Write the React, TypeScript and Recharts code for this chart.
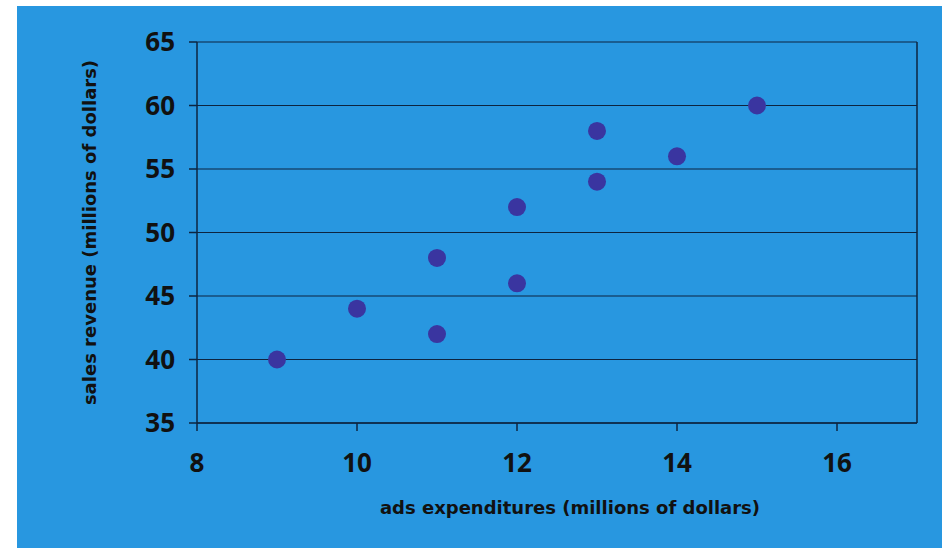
import React from 'react';
import { ScatterChart, Scatter, XAxis, YAxis, CartesianGrid, ReferenceLine } from 'recharts';

const adsSpend = [9, 10, 11, 11, 12, 12, 13, 13, 14, 15];
const salesRevenue = [40, 44, 42, 48, 46, 52, 54, 58, 56, 60];
const xTicks = [8, 10, 12, 14, 16];
const yTicks = [35, 40, 45, 50, 55, 60, 65];

const data = adsSpend.map((x, i) => ({ x, y: salesRevenue[i] }));

const FONT = '"Open Sans", sans-serif';
const LABEL_FONT = '"DejaVu Sans", sans-serif';
const LINE = '#0d2440';

export default function App() {
  return (
    <div style={{ position: 'absolute', left: 0, top: 0, width: 942, height: 548, background: '#fff', overflow: 'hidden' }}>
      <div style={{ position: 'absolute', left: 17, top: 6, width: 925, height: 542, background: '#2897e0' }}>
        <ScatterChart width={925} height={542} margin={{ top: 36, right: 25, bottom: 0, left: 0 }}>
          <CartesianGrid horizontal={true} vertical={false} stroke={LINE} strokeWidth={1.2} strokeOpacity={1} />
          <XAxis
            type="number"
            dataKey="x"
            domain={[8, 17]}
            ticks={xTicks}
            allowDataOverflow
            height={125}
            axisLine={{ stroke: LINE, strokeWidth: 1.5 }}
            tickLine={{ stroke: LINE, strokeWidth: 1.5 }}
            tickSize={8}
            tickMargin={23}
            tick={{ fill: '#111', fontSize: 26, fontWeight: 700, fontFamily: FONT }}
            label={{ value: 'ads expenditures (millions of dollars)', position: 'insideBottom', offset: 34, dx: 13, fill: '#111', fontSize: 18, fontWeight: 700, fontFamily: LABEL_FONT }}
          />
          <YAxis
            type="number"
            dataKey="y"
            domain={[35, 65]}
            ticks={yTicks}
            width={180}
            axisLine={{ stroke: LINE, strokeWidth: 1.5 }}
            tickLine={{ stroke: LINE, strokeWidth: 1.5 }}
            tickSize={8}
            tickMargin={14}
            tick={{ fill: '#111', fontSize: 26, fontWeight: 700, fontFamily: FONT }}
            label={{ value: 'sales revenue (millions of dollars)', angle: -90, position: 'insideLeft', offset: 73, fill: '#111', fontSize: 18, fontWeight: 700, fontFamily: LABEL_FONT, style: { textAnchor: 'middle' } }}
          />
          <ReferenceLine x={17} stroke={LINE} strokeWidth={1.5} ifOverflow="extendDomain" />
          <Scatter data={data} fill="#3a35a0" isAnimationActive={false} shape={(p: any) => <circle cx={p.cx} cy={p.cy} r={9} fill="#3a35a0" />} />
        </ScatterChart>
      </div>
    </div>
  );
}
